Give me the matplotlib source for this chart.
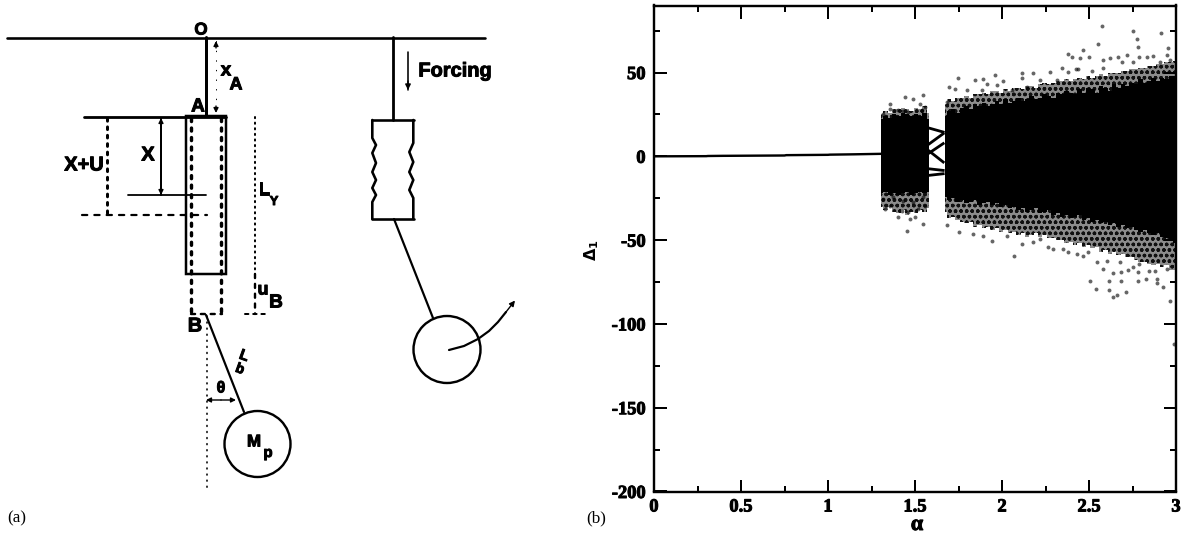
import matplotlib
matplotlib.use("Agg")
import matplotlib.pyplot as plt
import matplotlib.patheffects as pe
from matplotlib.patches import Circle, Rectangle

# ---------- panel (b) values ----------
x_ticks = [0, 0.5, 1, 1.5, 2, 2.5, 3]
x_tick_labels = ["0", "0.5", "1", "1.5", "2", "2.5", "3"]
x_minor = [0.25, 0.75, 1.25, 1.75, 2.25, 2.75]
y_ticks = [50, 0, -50, -100, -150, -200]
y_minor = [75, 25, -25, -75, -125, -175]

fixed_alpha = [0, 0.30, 0.31, 0.40, 0.41, 0.75, 0.76, 1.0, 1.01, 1.15, 1.31]
fixed_delta = [0.0, 0.1, 0.2, 0.3, 0.3, 0.5, 0.7, 0.9, 1.0, 1.2, 1.5]

# first chaotic window
block_alpha = [1.305, 1.33, 1.355, 1.38, 1.405, 1.43, 1.455, 1.48, 1.505, 1.53, 1.555, 1.578]
block_core_top = [22, 24, 23, 25, 24, 26, 25, 24, 25, 24, 26, 22]
block_core_bot = [-22, -21, -23, -22, -23, -22, -21, -23, -22, -21, -22, -21]
block_mid_top = [25, 27, 26, 28, 28, 29, 28, 27, 29, 28, 30, 26]
block_mid_bot = [-30, -32, -30, -33, -34, -32, -35, -33, -34, -32, -33, -31]

# period-doubled branches between the two windows
branch_alpha = [1.576, 1.662]
branch_deltas = [[17.0, 14.5], [7.0, 13.5], [3.6, -3.4], [1.6, 7.6], [-7.4, -8.4], [-11.4, -10.4]]

# main chaotic region
main_alpha = [1.67, 1.695, 1.72, 1.745, 1.77, 1.795, 1.82, 1.845, 1.87, 1.895, 1.92, 1.945,
              1.97, 1.995, 2.02, 2.045, 2.07, 2.095, 2.12, 2.145, 2.17, 2.195, 2.22, 2.245,
              2.27, 2.295, 2.32, 2.345, 2.37, 2.395, 2.42, 2.445, 2.47, 2.495, 2.52, 2.545,
              2.57, 2.595, 2.62, 2.645, 2.67, 2.695, 2.72, 2.745, 2.77, 2.795, 2.82, 2.845,
              2.87, 2.895, 2.92, 2.945, 2.97, 3.0]
main_core_top = [24, 27, 28, 26, 29, 30, 28, 31, 30, 32, 30, 31, 33, 31, 34, 32, 33, 35, 33, 34,
                 36, 34, 35, 37, 36, 35, 38, 37, 39, 38, 37, 40, 38, 41, 40, 38, 42, 41, 39, 43,
                 41, 43, 42, 44, 43, 46, 44, 45, 47, 45, 47, 46, 48, 48]
main_core_bot = [-24, -26, -25, -27, -26, -28, -27, -26, -29, -28, -27, -29, -28, -30, -29, -31,
                 -30, -32, -31, -33, -32, -31, -34, -33, -32, -35, -34, -36, -35, -37, -36, -35,
                 -38, -37, -39, -38, -40, -39, -41, -40, -42, -41, -43, -42, -44, -45, -44, -46,
                 -47, -46, -48, -49, -50, -52]
main_mid_top = [31, 34, 33, 35, 35, 36, 35, 37, 37, 38, 37, 39, 39, 38, 40, 39, 41, 41, 40, 42,
                42, 41, 43, 44, 43, 44, 45, 45, 46, 45, 46, 47, 46, 48, 47, 48, 49, 48, 50, 50,
                50, 51, 51, 52, 52, 53, 53, 54, 54, 55, 55, 56, 56, 57]
main_mid_bot = [-33, -37, -36, -38, -39, -40, -39, -42, -41, -43, -42, -44, -43, -45, -44, -46,
                -45, -47, -46, -48, -47, -46, -48, -47, -49, -49, -50, -50, -52, -51, -53, -52,
                -54, -53, -55, -54, -57, -56, -58, -57, -59, -58, -60, -60, -62, -63, -63, -64,
                -65, -64, -66, -65, -68, -68]

# scattered points at the edge of the clouds
stray_alpha = [2.573, 2.755, 2.914, 2.550, 2.784, 2.774, 2.952, 2.381, 2.464, 2.401, 2.449, 2.502,
               2.579, 2.621, 2.669, 2.717, 2.790, 2.832, 2.870, 2.947, 2.439, 2.343, 2.381, 2.426,
               2.516, 2.583, 2.688, 2.755, 2.908, 2.966, 1.749, 1.696, 1.730, 1.845, 1.893, 1.960,
               2.113, 2.180, 2.276, 1.912, 2.008, 2.113, 2.219, 2.315, 1.797, 1.883, 1.970, 2.056,
               2.142, 1.682,
               2.069, 2.506, 2.617, 2.541, 2.636, 2.659, 2.713, 2.617, 2.682, 2.784, 2.828, 2.889,
               2.924, 2.889, 2.966, 2.579, 2.636, 2.682, 2.723, 2.751, 2.784, 2.847, 2.880, 2.947,
               2.678, 2.790, 2.544, 2.602, 2.468, 2.496, 2.429, 2.382, 2.353, 2.291, 2.267, 2.113,
               1.941, 1.836, 1.755, 1.682, 1.893, 2.027, 2.180, 2.219,
               1.356, 1.356, 1.433, 1.490, 1.548, 1.528, 1.557, 1.318, 1.404, 1.461, 1.538, 1.442,
               1.452, 1.544, 1.471, 1.500, 1.327, 1.356, 1.404, 1.423, 1.461, 1.519, 1.557, 1.318,
               1.375, 1.433, 1.490, 1.548, 2.990]
stray_delta = [78.0, 75.0, 73.4, 66.8, 65.4, 69.8, 64.4, 61.1, 63.4, 59.5, 58.5, 59.5,
               57.5, 58.9, 59.5, 60.5, 59.5, 59.1, 59.9, 60.5, 51.9, 52.5, 50.5, 51.9,
               51.1, 52.5, 56.5, 56.5, 56.5, 57.5, 46.5, 41.1, 39.9, 45.5, 45.9, 48.5,
               49.5, 49.9, 50.1, 43.1, 45.1, 46.5, 45.5, 45.5, 39.5, 39.5, 42.5, 39.5,
               41.5, 32.5,
               -59.2, -74.6, -79.8, -79.4, -84.2, -82.6, -81.2, -74.2, -74.2, -74.2, -73.2, -73.2,
               -77.8, -75.8, -86.2, -67.2, -69.8, -68.8, -67.6, -66.2, -69.2, -68.2, -68.6, -67.2,
               -63.2, -64.2, -63.2, -62.2, -59.2, -57.2, -58.2, -57.2, -55.2, -55.2, -54.2, -52.2,
               -50.6, -46.3, -45.3, -40.7, -47.3, -47.3, -51.3, -49.3,
               31.1, 28.5, 27.1, 34.5, 36.5, 31.5, 29.5, 25.5, 27.5, 26.5, 27.5, 35.5,
               -44.3, -40.3, -37.3, -36.3, -31.4, -29.4, -36.3, -32.4, -33.4, -31.4, -29.4, -25.4,
               -24.4, -26.4, -27.4, -24.4, -112.0]

# ---------- panel (a) schematic, in picture pixels ----------
beam_x, beam_y = [7, 485], [37.5, 37.5]
stem_left_x, stem_left_y = [205.5, 205.5], [37, 116]
top_plate_x, top_plate_y = [84, 226], [116.5, 116.5]
rod_box = (186, 116, 40, 158)
inner_left_x, inner_left_y = [191, 191], [118, 314]
inner_right_x, inner_right_y = [221, 221], [118, 314]
inner_bottom_x, inner_bottom_y = [191, 222], [314, 314]
xu_x, xu_y = [107, 107], [118, 215]
xu_floor_x, xu_floor_y = [82, 207], [215, 215]
x_arrow_x, x_arrow_y = [161, 161], [118, 195]
x_floor_x, x_floor_y = [128, 206], [195, 195]
ly_x, ly_y = [255, 255], [117, 274]
ub_x, ub_y = [255, 255], [274, 314]
ub_floor_x, ub_floor_y = [245, 266], [314, 314]
xa_x, xa_y = [216, 216], [41, 113]
rod_left_x, rod_left_y = [206, 244], [315, 412]
vertical_x, vertical_y = [206.5, 206.5], [316, 488]
theta_x, theta_y = [206, 236], [400, 400]
bob_left = (257.5, 444, 33)
stem_right_x, stem_right_y = [393, 393], [37, 120]
force_x, force_y = [408, 408], [52, 90]
bellow_top_x, bellow_top_y = [372, 414], [120, 120]
bellow_bot_x, bellow_bot_y = [372, 414], [219, 219]
wavy_left_x = [372.3, 372.3, 376, 372.3, 376, 372.3, 376, 372.3, 376, 372.3, 372.3]
wavy_left_y = [120, 138, 145, 153, 163, 172, 180, 188, 195, 202, 219]
wavy_right_x = [413.3, 413.3, 409.3, 413.3, 409.3, 413.3, 409.3, 413.3, 413.3]
wavy_right_y = [120, 143, 152, 162, 172, 180, 190, 198, 219]
rod_right_x, rod_right_y = [394, 433], [219, 318]
bob_right = (447, 349.5, 33.5)
swing_x = [449, 464, 478, 489, 498, 506]
swing_y = [350, 346, 339, 331, 322, 312]
swing_tip = ((506, 312), (515, 300.5))

PX = 0.72
fig = plt.figure(figsize=(11.92, 5.36), dpi=100)
bg = fig.add_axes([0, 0, 1, 1])
bg.set_xlim(0, 1192)
bg.set_ylim(536, 0)
bg.axis("off")

SANS = "Liberation Sans"
SERIF = "Liberation Serif"
HEAVY = [pe.withStroke(linewidth=0.7, foreground="black")]


def line(xs, ys, w=2.0, ls="-", cap="round"):
    bg.plot(xs, ys, color="black", lw=w * PX, ls=ls, solid_capstyle=cap,
            dash_capstyle="round", solid_joinstyle="round")


def label(x, y, s, size=14.5, **kw):
    t = bg.text(x, y, s, fontsize=size * PX, family=SANS, fontweight="bold",
                ha="center", va="center", **kw)
    t.set_path_effects(HEAVY)


def arrow(p0, p1, w=1.4, scale=7):
    bg.annotate("", xy=p1, xytext=p0,
                arrowprops=dict(arrowstyle="-|>", color="black", lw=w * PX,
                                mutation_scale=scale, shrinkA=0, shrinkB=0))


DOTTED = (0, (0.6, 2.2))
DASHED = (0, (1.7, 2.4))
THICK_DASH = (0, (0.9, 1.9))

line(beam_x, beam_y, 2.6)
line(stem_left_x, stem_left_y, 3.0)
line(top_plate_x, top_plate_y, 2.8)
bg.add_patch(Rectangle(rod_box[:2], rod_box[2], rod_box[3], fill=False, ec="black", lw=2.5 * PX))
line(inner_left_x, inner_left_y, 3.4, THICK_DASH)
line(inner_right_x, inner_right_y, 3.4, THICK_DASH)
line(inner_bottom_x, inner_bottom_y, 2.4, DASHED)
line(xu_x, xu_y, 3.0, THICK_DASH)
line(xu_floor_x, xu_floor_y, 2.2, (0, (2.4, 3.2)))
line(x_arrow_x, x_arrow_y, 2.0)
arrow((x_arrow_x[0], x_arrow_y[0] + 8), (x_arrow_x[0], x_arrow_y[0]))
arrow((x_arrow_x[1], x_arrow_y[1] - 8), (x_arrow_x[1], x_arrow_y[1]))
line(x_floor_x, x_floor_y, 1.8)
line(ly_x, ly_y, 2.0, DOTTED)
line(ub_x, ub_y, 2.4, DASHED)
line(ub_floor_x, ub_floor_y, 2.0, DASHED)
line(xa_x, xa_y, 1.0, (0, (0.6, 9)))
arrow((xa_x[0], xa_y[0] + 7), (xa_x[0], xa_y[0]))
arrow((xa_x[1], xa_y[1] - 7), (xa_x[1], xa_y[1]))
line(rod_left_x, rod_left_y, 2.2)
line(vertical_x, vertical_y, 1.6, (0, (0.6, 3.2)))
arrow((221, 400), (theta_x[0], theta_y[0]))
arrow((221, 400), (theta_x[1], theta_y[1]))
bg.add_patch(Circle(bob_left[:2], bob_left[2], fill=False, ec="black", lw=2.4 * PX))

line(stem_right_x, stem_right_y, 2.8)
line(force_x, force_y, 1.6)
arrow((force_x[0], force_y[1] - 9), (force_x[0], force_y[1]), scale=8)
line(bellow_top_x, bellow_top_y, 2.6)
line(bellow_bot_x, bellow_bot_y, 2.6)
line(wavy_left_x, wavy_left_y, 2.6)
line(wavy_right_x, wavy_right_y, 2.6)
line(rod_right_x, rod_right_y, 2.2)
bg.add_patch(Circle(bob_right[:2], bob_right[2], fill=False, ec="black", lw=2.4 * PX))
line(swing_x, swing_y, 2.2)
arrow(*swing_tip, scale=8)

label(201, 30, "O", 17)
label(198, 107, "A", 19)
label(226, 71, "x", 19)
label(236, 85, "A", 18)
label(148, 155, "X", 20)
label(84, 165, "X+U", 20)
label(264, 190, "L", 18)
label(274, 202, "Y", 13)
label(263, 290, "u", 18)
label(276, 303, "B", 19)
label(195, 326, "B", 20)
label(244, 356, "L", 15, rotation=-20)
label(240, 369, "b", 14, rotation=-20)
label(221, 388, "θ", 16)
label(254, 442, "M", 17)
label(268, 453, "p", 15)
label(455, 71, "Forcing", 20)
bg.text(7, 518, "(a)", fontsize=17 * PX, family=SERIF, ha="left", va="center")
bg.text(586, 518, "(b)", fontsize=17 * PX, family=SERIF, ha="left", va="center")

# ---------- panel (b) ----------
ax = fig.add_axes([654 / 1192, 1 - 491.5 / 536, 522 / 1192, 486 / 536])
ax.set_xlim(0, 3)
ax.set_ylim(-200, 90)
ax.set_facecolor("none")

plt.rcParams["hatch.linewidth"] = 1.0
ax.plot(fixed_alpha, fixed_delta, color="black", lw=2.4 * PX)
for pair in branch_deltas:
    ax.plot(branch_alpha, pair, color="black", lw=2.8 * PX)
for xs, mid_t, mid_b, top, bot in [
    (block_alpha, block_mid_top, block_mid_bot, block_core_top, block_core_bot),
    (main_alpha, main_mid_top, main_mid_bot, main_core_top, main_core_bot),
]:
    ax.fill_between(xs, mid_b, mid_t, step="mid", facecolor="#8c8c8c", edgecolor="#101010",
                    hatch="ooo", lw=0)
    ax.fill_between(xs, bot, top, step="mid", color="black", lw=0)
ax.scatter(stray_alpha, stray_delta, s=8, color="black", alpha=0.6, linewidths=0, clip_on=True)

for side in ax.spines.values():
    side.set_linewidth(2.4 * PX)
ax.set_xticks(x_ticks)
ax.set_xticks(x_minor, minor=True)
ax.set_yticks(y_ticks)
ax.set_yticks(y_minor, minor=True)
ax.tick_params(which="major", direction="in", top=True, right=True, length=12.5 * PX,
               width=2.0 * PX)
ax.tick_params(which="minor", direction="in", top=True, right=True, length=6 * PX,
               width=2.0 * PX)
ax.set_xticklabels(x_tick_labels, family=SERIF, fontweight="bold", fontsize=18.5 * PX)
ax.set_yticklabels([str(v) for v in y_ticks], family=SERIF, fontweight="bold", fontsize=18.5 * PX)
for t in ax.get_xticklabels() + ax.get_yticklabels():
    t.set_path_effects(HEAVY)
ax.tick_params(axis="y", which="major", pad=6)
ax.tick_params(axis="x", which="major", pad=5)
bg.text(917, 525, "α", fontsize=22 * PX, family=SERIF, fontweight="bold", ha="center", va="center",
        path_effects=HEAVY)
plt.rcParams["mathtext.fontset"] = "dejavusans"
bg.text(592, 250, r"$\mathbf{\Delta_1}$", fontsize=16 * PX, rotation=90, ha="center", va="center")

fig.savefig("out.png", dpi=100)
